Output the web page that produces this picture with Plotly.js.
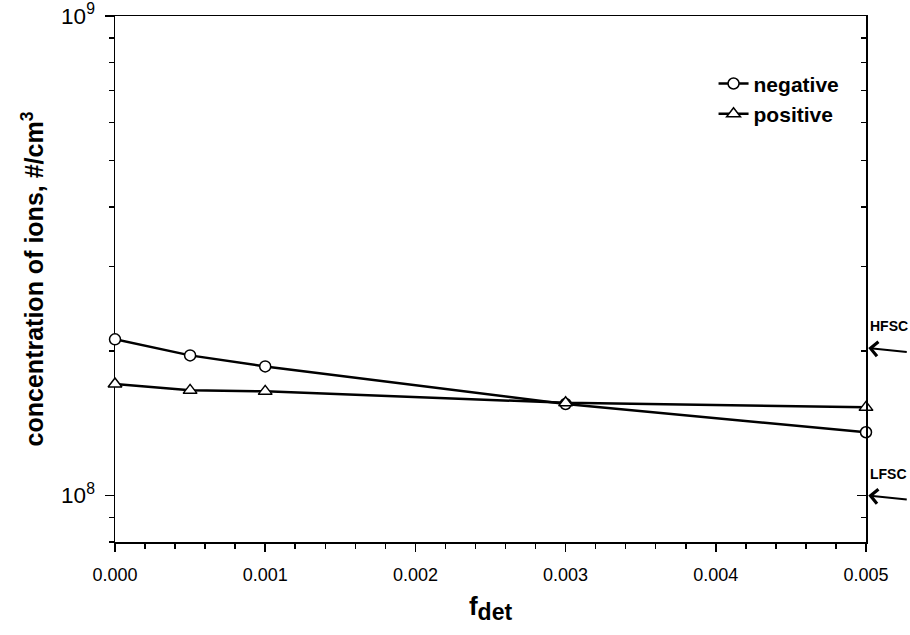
<!DOCTYPE html>
<html>
<head>
<meta charset="utf-8">
<script src="https://cdn.plot.ly/plotly-3.0.1.min.js"></script>
<style>html,body{margin:0;padding:0;background:#fff;}#chart{width:910px;height:635px;}</style>
</head>
<body>
<div id="chart"></div>
<script>
const fdet = [0, 0.0005, 0.001, 0.003, 0.005];
const negative = [2.117e8, 1.960e8, 1.859e8, 1.552e8, 1.355e8];
const positive = [1.708e8, 1.657e8, 1.649e8, 1.561e8, 1.527e8];
const seriesNames = ['negative', 'positive'];
const refLevels = [{label: 'HFSC', value: 2.03e8}, {label: 'LFSC', value: 1.0e8}];

const FONT = 'Liberation Sans, Arial, sans-serif';

const traces = [
  {x: fdet, y: negative, name: seriesNames[0], type: 'scatter', mode: 'lines+markers',
   line: {color: '#000', width: 2.5},
   marker: {symbol: 'circle', size: 11, color: '#fff', line: {color: '#000', width: 1.5}},
   cliponaxis: false},
  {x: fdet, y: positive, name: seriesNames[1], type: 'scatter', mode: 'lines+markers',
   line: {color: '#000', width: 2.5},
   marker: {symbol: 'triangle-up', size: 12, color: '#fff', line: {color: '#000', width: 1.5}},
   cliponaxis: false},
  // carrier for the right-hand axis (draws nothing)
  {x: fdet, y: negative, yaxis: 'y2', type: 'scatter', mode: 'none', showlegend: false, hoverinfo: 'skip'}
];

const yRange = [Math.log10(8e7), 9];

const annotations = [];
refLevels.forEach(r => {
  annotations.push({xref: 'paper', yref: 'y', x: 1.003, y: Math.log10(r.value),
    ax: 40, ay: 4, showarrow: true, arrowhead: 4, arrowsize: 1.4, arrowwidth: 2, arrowcolor: '#000',
    text: ''});
  annotations.push({xref: 'paper', yref: 'y', x: 1.002, y: Math.log10(r.value), yshift: 22,
    xanchor: 'left', showarrow: false, text: '<b>' + r.label + '</b>',
    font: {family: FONT, size: 14, color: '#000'}});
});

const layout = {
  width: 910, height: 635,
  margin: {l: 115, r: 44, t: 16, b: 93},
  paper_bgcolor: '#fff', plot_bgcolor: '#fff',
  font: {family: FONT, color: '#000', size: 18},
  showlegend: true,
  legend: {x: 0.797, y: 0.91, xanchor: 'left', yanchor: 'top', bgcolor: 'rgba(0,0,0,0)',
    font: {family: FONT, size: 21, color: '#000', weight: 'bold'}, tracegroupgap: 0, itemwidth: 30},
  xaxis: {range: [0, 0.005], dtick: 0.001, tickformat: '.3f',
    showline: true, linecolor: '#000', linewidth: 1.5, mirror: true,
    ticks: 'outside', ticklen: 8, tickwidth: 1.5, tickcolor: '#000',
    minor: {dtick: 0.0002, ticks: 'outside', ticklen: 5, tickwidth: 1.5, tickcolor: '#000', showgrid: false},
    showgrid: false, zeroline: false, layer: 'below traces',
    ticklabelstandoff: 8,
    tickfont: {family: FONT, size: 18, color: '#000'},
    title: {text: '<b>f<sub><span style="font-size:23px">det</span></sub></b>', font: {family: FONT, size: 26, color: '#000'}, standoff: 12}},
  yaxis: {type: 'log', range: yRange, dtick: 1, exponentformat: 'power', showexponent: 'all',
    showline: true, linecolor: '#000', linewidth: 1.5,
    ticks: 'outside', ticklen: 9, tickwidth: 1.5, tickcolor: '#000',
    minor: {dtick: 'D1', ticks: 'outside', ticklen: 5, tickwidth: 1.5, tickcolor: '#000', showgrid: false},
    showgrid: false, zeroline: false, layer: 'below traces',
    ticklabelstandoff: 6, ticklabeloverflow: 'allow',
    tickfont: {family: FONT, size: 18, color: '#000'},
    title: {text: '<b>concentration of ions, #/cm<sup>3</sup></b>', font: {family: FONT, size: 25, color: '#000'}, standoff: 10}},
  yaxis2: {type: 'log', range: yRange, dtick: 1, overlaying: 'y', side: 'right',
    showline: true, linecolor: '#000', linewidth: 1.5,
    ticks: 'inside', ticklen: 9, tickwidth: 1.5, tickcolor: '#000', showticklabels: false,
    minor: {dtick: 'D1', ticks: 'inside', ticklen: 5, tickwidth: 1.5, tickcolor: '#000', showgrid: false},
    showgrid: false, zeroline: false},
  annotations: annotations
};

Plotly.newPlot('chart', traces, layout, {displayModeBar: false, staticPlot: true});
</script>
</body>
</html>
